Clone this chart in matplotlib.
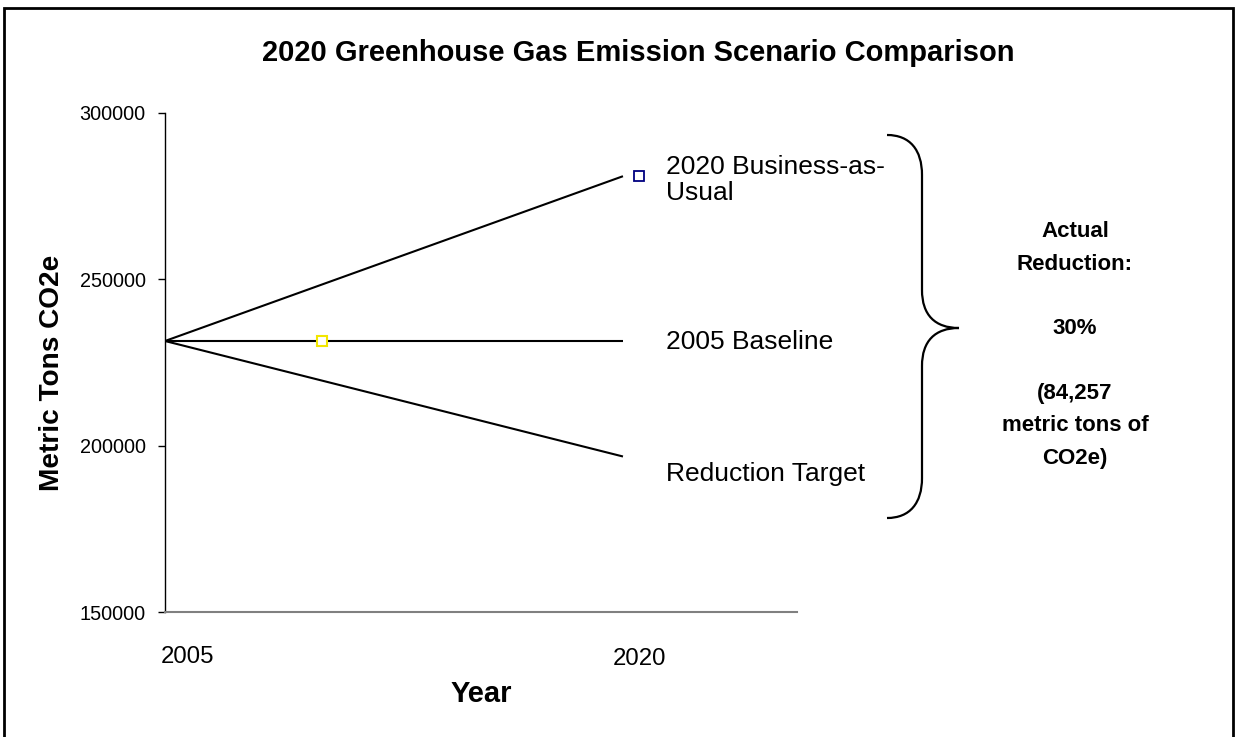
import matplotlib
matplotlib.use("Agg")
import matplotlib.pyplot as plt
from matplotlib.path import Path
from matplotlib.patches import PathPatch, Rectangle

plt.rcParams['font.family'] = ['Liberation Sans', 'DejaVu Sans']

# ---- data ----
years = ["2005", "2020"]
x_pos = [0, 1]
bau = [231462, 281000]          # 2020 Business-as-Usual
baseline = [231462, 231462]     # 2005 Baseline
target = [231462, 196743]       # Reduction Target
marker_bau_x, marker_bau_y = 1.035, 281000
marker_base_x, marker_base_y = 0.343, 231462
y_ticks = [150000, 200000, 250000, 300000]
series_labels = ["2020 Business-as-\nUsual", "2005 Baseline", "Reduction Target"]
title = "2020 Greenhouse Gas Emission Scenario Comparison"
note = "Actual\nReduction:\n\n30%\n\n(84,257\nmetric tons of\nCO2e)"

W, H = 1236, 737
fig = plt.figure(figsize=(W / 100, H / 100), dpi=100)

def fx(px):
    return px / W

def fy(py):
    return 1 - py / H

ax = fig.add_axes([fx(165), fy(612), fx(797) - fx(165), fy(113) - fy(612)])
ax.set_xlim(0, 1.380)
ax.set_ylim(150000, 300000)

ax.plot(x_pos, bau, color='black', lw=1.5, solid_capstyle='butt')
ax.plot(x_pos, baseline, color='black', lw=1.5, solid_capstyle='butt')
ax.plot(x_pos, target, color='black', lw=1.5, solid_capstyle='butt')
ax.plot([marker_bau_x], [marker_bau_y], marker='s', ms=6.5, mfc='white',
        mec='#000080', mew=1.3, ls='none', clip_on=False, zorder=5)
ax.plot([marker_base_x], [marker_base_y], marker='s', ms=7, mfc='white',
        mec='#F2E600', mew=1.5, ls='none', clip_on=False, zorder=5)

for s in ['top', 'right']:
    ax.spines[s].set_visible(False)
ax.spines['left'].set_color('black')
ax.spines['left'].set_linewidth(1.0)
ax.spines['bottom'].set_color('#808080')
ax.spines['bottom'].set_linewidth(1.5)
ax.set_xticks([])
ax.set_yticks(y_ticks)
ax.set_yticklabels([str(v) for v in y_ticks], fontsize=14.3)
ax.tick_params(axis='y', direction='out', length=5, width=1, pad=9, colors='black')

# x category labels
ax.text(0.05, -0.09, years[0], transform=ax.get_xaxis_transform(), ha='center',
        va='center', fontsize=17.3)
ax.text(1.037, -0.095, years[1], transform=ax.get_xaxis_transform(), ha='center',
        va='center', fontsize=17.3)

# series labels
fig.text(fx(666), fy(180), series_labels[0], ha='left', va='center', fontsize=19,
         linespacing=1.15)
fig.text(fx(666), fy(342), series_labels[1], ha='left', va='center', fontsize=19)
fig.text(fx(666), fy(474), series_labels[2], ha='left', va='center', fontsize=19)

# titles
fig.text(fx(638), fy(53), title, ha='center', va='center', fontsize=21,
         fontweight='bold')
fig.text(fx(52), fy(373), "Metric Tons CO2e", ha='center', va='center',
         fontsize=20.2, fontweight='bold', rotation=90)
fig.text(fx(481), fy(694), "Year", ha='center', va='center', fontsize=21,
         fontweight='bold')

# note
fig.text(fx(1075), fy(345), note, ha='center', va='center', fontsize=16,
         fontweight='bold', linespacing=1.71)

# brace
def P(px, py):
    return (fx(px), fy(py))

verts = [
    P(887, 135), P(910, 135), P(922, 150), P(922, 175),
    P(922, 290),
    P(922, 315), P(935, 328), P(959, 328),
    P(935, 328), P(922, 341), P(922, 366),
    P(922, 478),
    P(922, 503), P(910, 518), P(887, 518),
]
codes = [Path.MOVETO, Path.CURVE4, Path.CURVE4, Path.CURVE4,
         Path.LINETO,
         Path.CURVE4, Path.CURVE4, Path.CURVE4,
         Path.CURVE4, Path.CURVE4, Path.CURVE4,
         Path.LINETO,
         Path.CURVE4, Path.CURVE4, Path.CURVE4]
fig.patches.append(PathPatch(Path(verts, codes), transform=fig.transFigure,
                             fill=False, lw=1.6, edgecolor='black'))

# outer border
fig.patches.append(Rectangle((fx(4), fy(760)), fx(1233) - fx(4), fy(8) - fy(760),
                             transform=fig.transFigure, fill=False, lw=2,
                             edgecolor='black', clip_on=False))

fig.savefig("out.png", dpi=100)
